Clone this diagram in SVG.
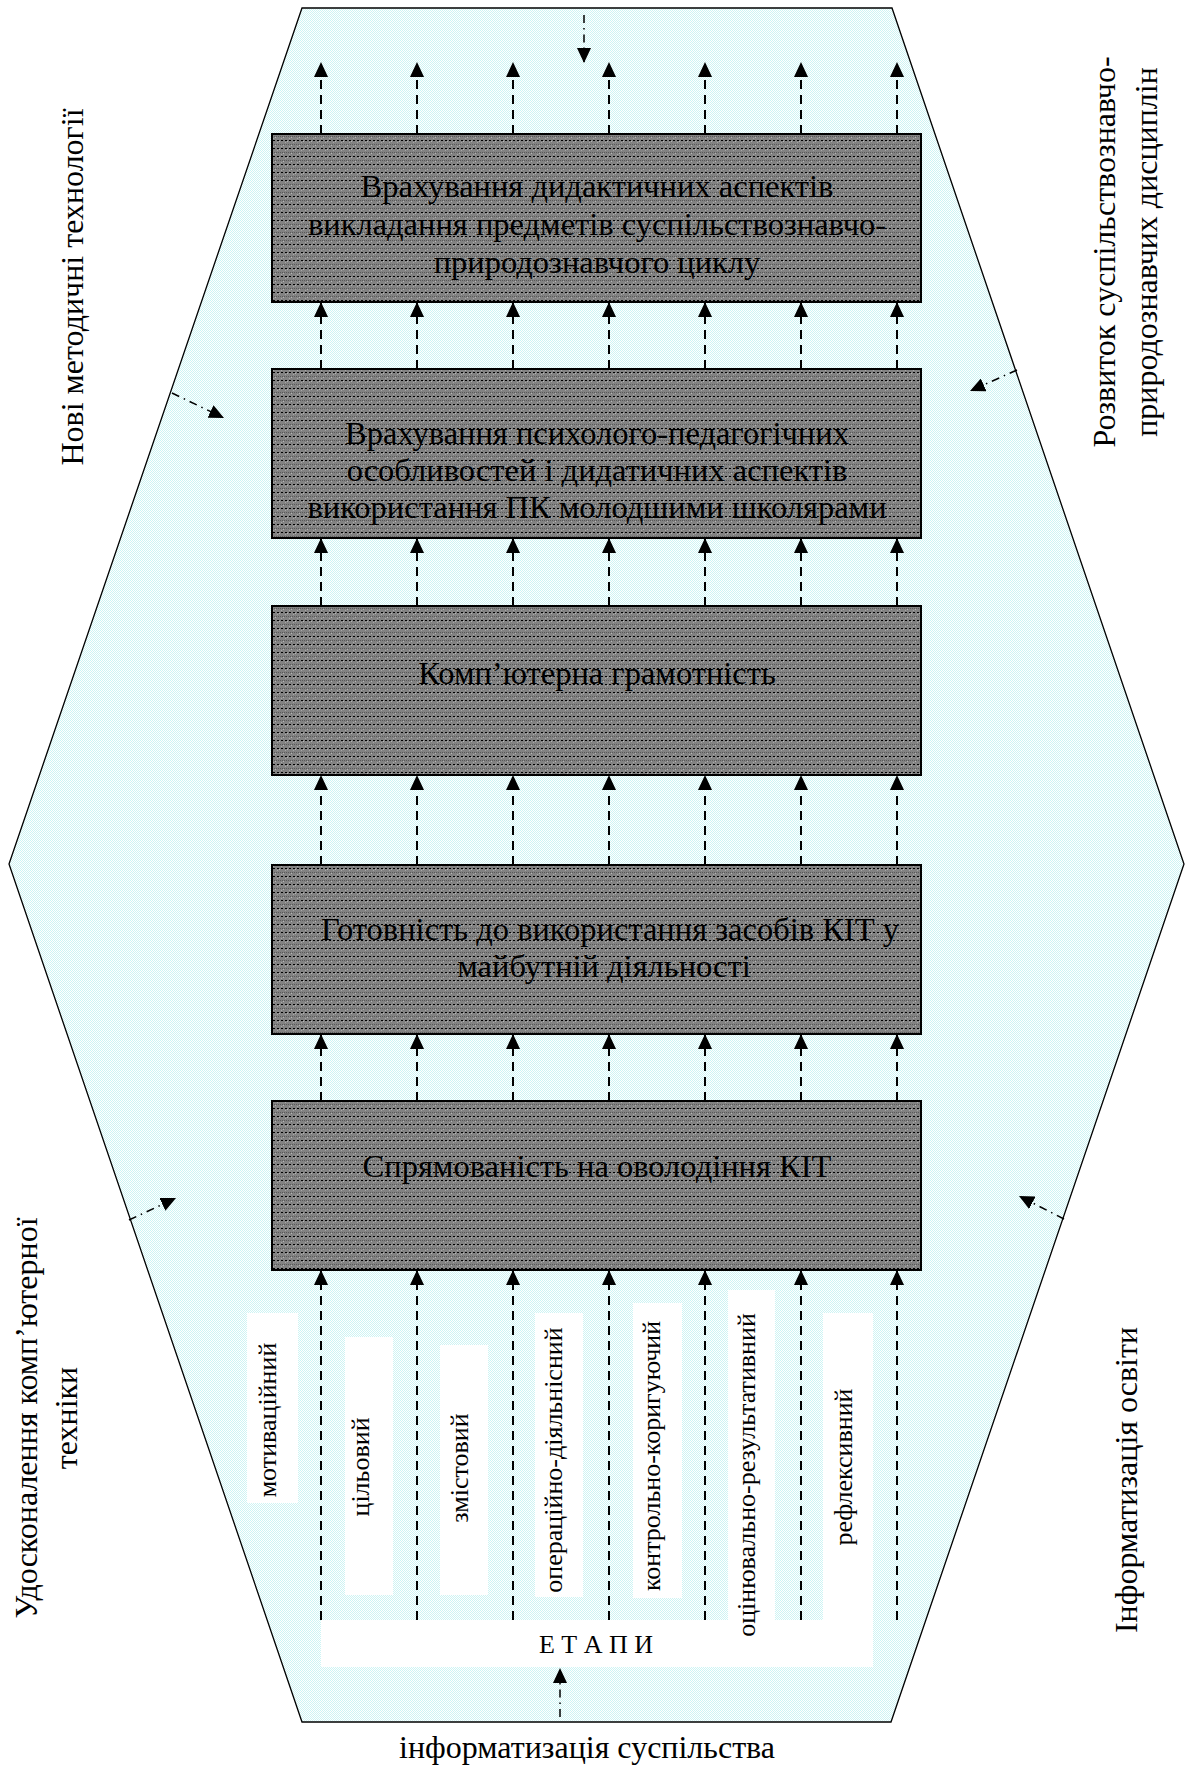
<svg xmlns="http://www.w3.org/2000/svg" width="1186" height="1766" viewBox="0 0 1186 1766">
<defs>
<pattern id="cyan" width="2" height="2" patternUnits="userSpaceOnUse">
<rect width="2" height="2" fill="#ffffff"/>
<rect width="1" height="1" fill="#cdf4f4"/>
<rect x="1" y="1" width="1" height="1" fill="#cdf4f4"/>
</pattern>
<pattern id="dots" width="8" height="8" patternUnits="userSpaceOnUse">
<rect width="8" height="8" fill="#828282"/>
<rect width="1" height="1" fill="#5a5a5a"/>
<rect x="2" y="0" width="1" height="1" fill="#5a5a5a"/>
<rect x="4" y="0" width="1" height="1" fill="#5a5a5a"/>
<rect x="6" y="0" width="1" height="1" fill="#5a5a5a"/>
<rect x="1" y="2" width="1" height="1" fill="#a8a8a8"/>
<rect x="5" y="6" width="1" height="1" fill="#a8a8a8"/>
<rect x="1" y="4" width="2" height="1" fill="#000"/>
<rect x="5" y="4" width="2" height="1" fill="#000"/>
<rect x="3" y="1" width="1" height="1" fill="#b4b4b4"/>
<rect x="7" y="5" width="1" height="1" fill="#b4b4b4"/>
</pattern>
<marker id="ah" viewBox="0 0 15 14" refX="15" refY="7" markerWidth="15" markerHeight="14" markerUnits="userSpaceOnUse" orient="auto">
<path d="M0,0 L15,7 L0,14 Z" fill="#000"/>
</marker>
</defs>
<style>
.box{fill:url(#dots);stroke:#000;stroke-width:2}
.bt{font-family:"Liberation Serif","Times New Roman",serif;font-size:32.5px;fill:#000;text-anchor:middle}
.st{font-family:"Liberation Serif","Times New Roman",serif;font-size:32px;fill:#000;text-anchor:middle}
.lt{font-family:"Liberation Serif","Times New Roman",serif;font-size:26px;fill:#000;text-anchor:middle}
.dash{stroke:#000;stroke-width:2;stroke-dasharray:9 6;fill:none;marker-end:url(#ah)}
.dd{stroke:#000;stroke-width:1.5;stroke-dasharray:8 5 1.5 5;fill:none;marker-end:url(#ah)}
.wb{fill:#fff}
</style>
<g id="background">
<polygon points="302,8 892,8 1184,864 891,1722 302,1722 9,864" fill="url(#cyan)" stroke="#000" stroke-width="1.3"/>
</g>
<g id="stage-labels-bg">
<rect class="wb" x="321" y="1620" width="552" height="47"/>
<rect class="wb" x="247" y="1313" width="51" height="190"/>
<rect class="wb" x="345" y="1337" width="48" height="258"/>
<rect class="wb" x="440" y="1345" width="48" height="250"/>
<rect class="wb" x="535" y="1313" width="48" height="284"/>
<rect class="wb" x="633" y="1303" width="49" height="295"/>
<rect class="wb" x="728" y="1290" width="47" height="350"/>
<rect class="wb" x="823" y="1313" width="50" height="354"/>
</g>
<g id="connectors">
<g id="col-top">
<line class="dash" x1="321" y1="134" x2="321" y2="62"/>
<line class="dash" x1="417" y1="134" x2="417" y2="62"/>
<line class="dash" x1="513" y1="134" x2="513" y2="62"/>
<line class="dash" x1="609" y1="134" x2="609" y2="62"/>
<line class="dash" x1="705" y1="134" x2="705" y2="62"/>
<line class="dash" x1="801" y1="134" x2="801" y2="62"/>
<line class="dash" x1="897" y1="134" x2="897" y2="62"/>
</g>
<g id="col-2-1">
<line class="dash" x1="321" y1="369" x2="321" y2="302"/>
<line class="dash" x1="417" y1="369" x2="417" y2="302"/>
<line class="dash" x1="513" y1="369" x2="513" y2="302"/>
<line class="dash" x1="609" y1="369" x2="609" y2="302"/>
<line class="dash" x1="705" y1="369" x2="705" y2="302"/>
<line class="dash" x1="801" y1="369" x2="801" y2="302"/>
<line class="dash" x1="897" y1="369" x2="897" y2="302"/>
</g>
<g id="col-3-2">
<line class="dash" x1="321" y1="606" x2="321" y2="538"/>
<line class="dash" x1="417" y1="606" x2="417" y2="538"/>
<line class="dash" x1="513" y1="606" x2="513" y2="538"/>
<line class="dash" x1="609" y1="606" x2="609" y2="538"/>
<line class="dash" x1="705" y1="606" x2="705" y2="538"/>
<line class="dash" x1="801" y1="606" x2="801" y2="538"/>
<line class="dash" x1="897" y1="606" x2="897" y2="538"/>
</g>
<g id="col-4-3">
<line class="dash" x1="321" y1="865" x2="321" y2="775"/>
<line class="dash" x1="417" y1="865" x2="417" y2="775"/>
<line class="dash" x1="513" y1="865" x2="513" y2="775"/>
<line class="dash" x1="609" y1="865" x2="609" y2="775"/>
<line class="dash" x1="705" y1="865" x2="705" y2="775"/>
<line class="dash" x1="801" y1="865" x2="801" y2="775"/>
<line class="dash" x1="897" y1="865" x2="897" y2="775"/>
</g>
<g id="col-5-4">
<line class="dash" x1="321" y1="1101" x2="321" y2="1034"/>
<line class="dash" x1="417" y1="1101" x2="417" y2="1034"/>
<line class="dash" x1="513" y1="1101" x2="513" y2="1034"/>
<line class="dash" x1="609" y1="1101" x2="609" y2="1034"/>
<line class="dash" x1="705" y1="1101" x2="705" y2="1034"/>
<line class="dash" x1="801" y1="1101" x2="801" y2="1034"/>
<line class="dash" x1="897" y1="1101" x2="897" y2="1034"/>
</g>
<g id="col-stages">
<line class="dash" x1="321" y1="1620" x2="321" y2="1270"/>
<line class="dash" x1="417" y1="1620" x2="417" y2="1270"/>
<line class="dash" x1="513" y1="1620" x2="513" y2="1270"/>
<line class="dash" x1="609" y1="1620" x2="609" y2="1270"/>
<line class="dash" x1="705" y1="1620" x2="705" y2="1270"/>
<line class="dash" x1="801" y1="1620" x2="801" y2="1270"/>
<line class="dash" x1="897" y1="1620" x2="897" y2="1270"/>
</g>
<g id="influences">
<line class="dd" x1="584" y1="15" x2="584" y2="63"/>
<line class="dd" x1="560" y1="1717" x2="560" y2="1668"/>
<line class="dd" x1="172" y1="393" x2="224" y2="418"/>
<line class="dd" x1="1017" y1="370" x2="970" y2="391"/>
<line class="dd" x1="129" y1="1220" x2="176" y2="1198"/>
<line class="dd" x1="1064" y1="1219" x2="1019" y2="1196"/>
</g>
</g>
<g id="box1">
<rect class="box" x="272" y="134" width="649" height="168"/>
<text class="bt" x="597" y="197">Врахування дидактичних аспектів</text>
<text class="bt" x="597" y="235">викладання предметів суспільствознавчо-</text>
<text class="bt" x="597" y="273">природознавчого циклу</text>
</g>
<g id="box2">
<rect class="box" x="272" y="369" width="649" height="169"/>
<text class="bt" x="597" y="444">Врахування психолого-педагогічних</text>
<text class="bt" x="597" y="481">особливостей і дидатичних аспектів</text>
<text class="bt" x="597" y="518">використання ПК молодшими школярами</text>
</g>
<g id="box3">
<rect class="box" x="272" y="606" width="649" height="169"/>
<text class="bt" x="597" y="684">Комп’ютерна грамотність</text>
</g>
<g id="box4">
<rect class="box" x="272" y="865" width="649" height="169"/>
<text class="bt" x="610" y="940">Готовність до використання засобів КІТ у</text>
<text class="bt" x="604" y="977">майбутній діяльності</text>
</g>
<g id="box5">
<rect class="box" x="272" y="1101" width="649" height="169"/>
<text class="bt" x="597" y="1177">Спрямованість на оволодіння КІТ</text>
</g>
<g id="stages">
<text class="lt" transform="translate(276,1420) rotate(-90)">мотиваційний</text>
<text class="lt" transform="translate(369,1467) rotate(-90)">цільовий</text>
<text class="lt" transform="translate(468,1468) rotate(-90)">змістовий</text>
<text class="lt" transform="translate(562,1460) rotate(-90)">операційно-діяльнісний</text>
<text class="lt" transform="translate(660,1456) rotate(-90)">контрольно-коригуючий</text>
<text class="lt" transform="translate(755,1475) rotate(-90)">оцінювально-результативний</text>
<text class="lt" transform="translate(852,1467) rotate(-90)">рефлексивний</text>
<text class="lt" x="596" y="1653">Е Т А П И</text>
</g>
<g id="factors">
<text class="st" transform="translate(83,287) rotate(-90)">Нові методичні технології</text>
<text class="st" transform="translate(1115,252) rotate(-90)">Розвиток суспільствознавчо-</text>
<text class="st" transform="translate(1157,252) rotate(-90)">природознавчих дисциплін</text>
<text class="st" transform="translate(37,1418) rotate(-90)">Удосконалення комп’ютерної</text>
<text class="st" transform="translate(77,1418) rotate(-90)">техніки</text>
<text class="st" transform="translate(1137,1480) rotate(-90)">Інформатизація освіти</text>
<text class="st" x="587" y="1758">інформатизація суспільства</text>
</g>
</svg>
